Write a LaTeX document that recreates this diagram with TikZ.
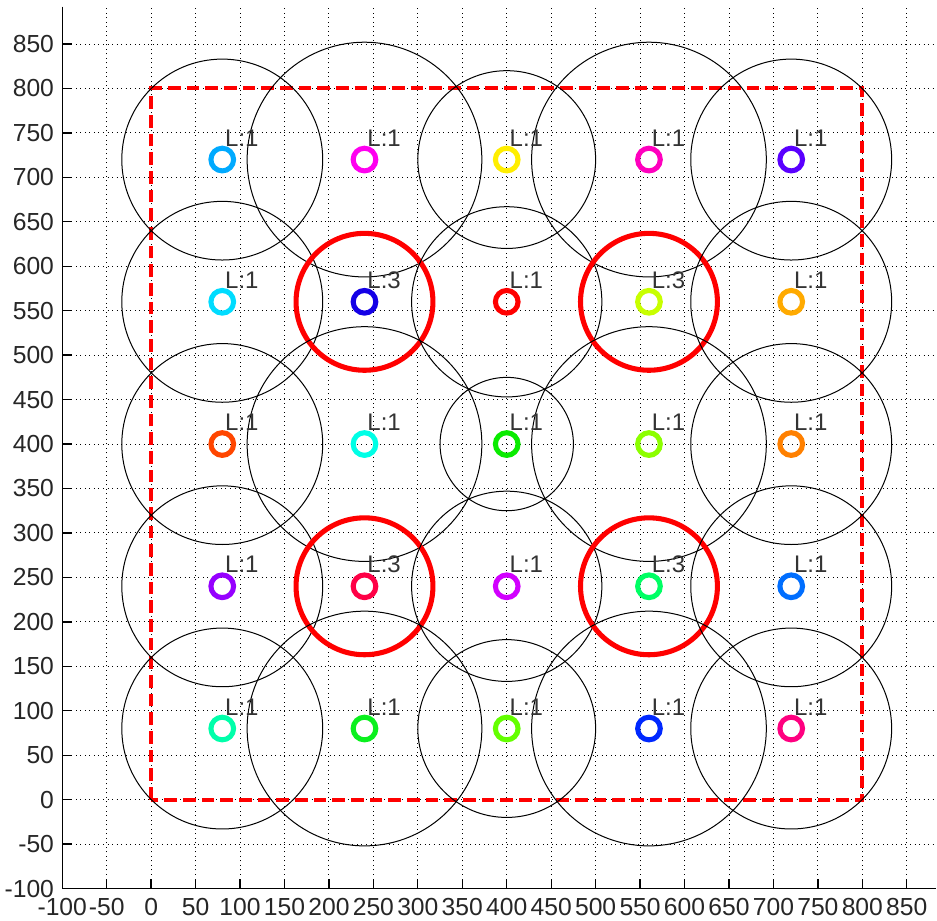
\documentclass[tikz,border=0pt]{standalone}
\usepackage{fontspec}
\setmainfont{Liberation Sans}
\usepackage{tikz}
\definecolor{skyBlue}{RGB}{0, 170, 255}
\definecolor{brightMagenta}{RGB}{255, 0, 240}
\definecolor{lemonYellow}{RGB}{255, 238, 0}
\definecolor{deepPink}{RGB}{255, 0, 190}
\definecolor{violetBlue}{RGB}{90, 0, 255}
\definecolor{lightCyan}{RGB}{0, 220, 255}
\definecolor{pureBlue}{RGB}{20, 0, 230}
\definecolor{pureRed}{RGB}{255, 0, 0}
\definecolor{limeYellow}{RGB}{200, 255, 0}
\definecolor{amberOrange}{RGB}{255, 170, 0}
\definecolor{redOrange}{RGB}{255, 70, 0}
\definecolor{aquaCyan}{RGB}{0, 255, 230}
\definecolor{brightGreen}{RGB}{10, 235, 0}
\definecolor{lightGreen}{RGB}{140, 255, 0}
\definecolor{darkOrange}{RGB}{255, 128, 0}
\definecolor{purpleViolet}{RGB}{150, 0, 255}
\definecolor{crimsonRed}{RGB}{255, 0, 70}
\definecolor{orchidPurple}{RGB}{210, 0, 255}
\definecolor{springGreen}{RGB}{0, 255, 100}
\definecolor{azureBlue}{RGB}{0, 110, 255}
\definecolor{aquaMint}{RGB}{0, 255, 170}
\definecolor{leafGreen}{RGB}{10, 240, 30}
\definecolor{chartreuse}{RGB}{100, 255, 0}
\definecolor{royalBlue}{RGB}{0, 40, 255}
\definecolor{rosePink}{RGB}{255, 0, 128}

\begin{document}
\begin{tikzpicture}[x=0.6667pt, y=0.6667pt,
    gridline/.style={black, line width=0.7pt, dash pattern=on 0.7pt off 2.7pt},
    coverage/.style={black, line width=0.75pt},
    hotspot/.style={red, line width=3.8pt},
    sensor/.style={circle, line width=3.8pt, minimum size=17pt, inner sep=0pt},
    lvl/.style={anchor=base west, inner sep=0pt, text=black!80, font=\fontsize{18}{20}\selectfont},
    ticklbl/.style={inner sep=0pt, text=black!85, font=\fontsize{18.5}{20}\selectfont}]
        \useasboundingbox (-170,-135.5) rectangle (884,899.5);
        % grid
        \foreach \v in {-50,0,...,850} {
            \draw[gridline] (\v,-100) -- (\v,892);
            \draw[gridline] (-100,\v) -- (883,\v);
        }
        % field border
        \draw[red, line width=3pt, dash pattern=on 9.5pt off 4.5pt] (0,0) rectangle (800,800);
        % coverage ranges
        \foreach \x/\y/\r/\s in {80/720/113/coverage, 240/720/132/coverage, 400/720/100/coverage, 560/720/132/coverage, 720/720/113/coverage,
                80/560/113/coverage, 240/560/77/hotspot, 400/560/107/coverage, 560/560/77/hotspot, 720/560/113/coverage,
                80/400/113/coverage, 240/400/132/coverage, 400/400/75/coverage, 560/400/132/coverage, 720/400/113/coverage,
                80/240/113/coverage, 240/240/77/hotspot, 400/240/107/coverage, 560/240/77/hotspot, 720/240/113/coverage,
                80/80/113/coverage, 240/80/132/coverage, 400/80/100/coverage, 560/80/132/coverage, 720/80/113/coverage}
            \draw[\s] (\x,\y) circle[radius=\r];
        % sensors and levels
        \foreach \x/\y/\c/\n in {80/720/skyBlue/1, 240/720/brightMagenta/1, 400/720/lemonYellow/1, 560/720/deepPink/1, 720/720/violetBlue/1,
                80/560/lightCyan/1, 240/560/pureBlue/3, 400/560/pureRed/1, 560/560/limeYellow/3, 720/560/amberOrange/1,
                80/400/redOrange/1, 240/400/aquaCyan/1, 400/400/brightGreen/1, 560/400/lightGreen/1, 720/400/darkOrange/1,
                80/240/purpleViolet/1, 240/240/crimsonRed/3, 400/240/orchidPurple/1, 560/240/springGreen/3, 720/240/azureBlue/1,
                80/80/aquaMint/1, 240/80/leafGreen/1, 400/80/chartreuse/1, 560/80/royalBlue/1, 720/80/rosePink/1} {
            \node[sensor, draw=\c] (s-\x-\y) at (\x,\y) {};
            \node[lvl] (l-\x-\y) at (\x+3,\y+15) {L:\n};
        }
        % axes
        \draw[line width=1pt] (-100,892) -- (-100,-100) -- (883,-100);
        \foreach \v in {-100,-50,...,850} {
            \draw[line width=1pt] (\v,-100) -- (\v,-89);
            \draw[line width=1pt] (-100,\v) -- (-89,\v);
            \node[ticklbl, anchor=north] (xt\v) at (\v,-111) {\v};
            \node[ticklbl, anchor=east] (yt\v) at (-109,\v) {\v};
        }
    \end{tikzpicture}
\end{document}
